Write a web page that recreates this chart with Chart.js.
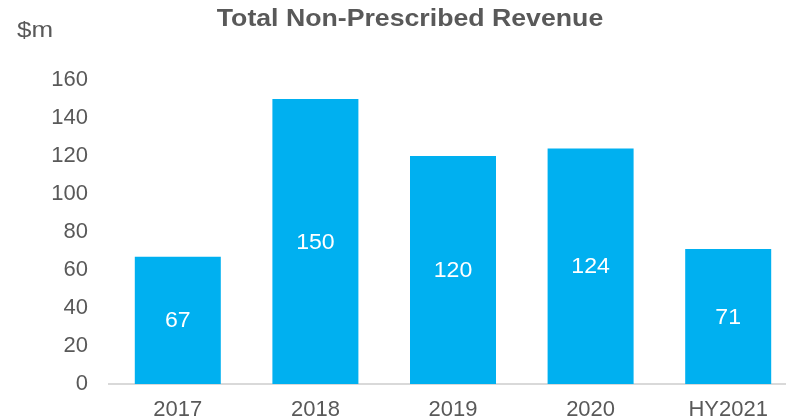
<!DOCTYPE html>
<html>
<head>
  <title>Total Non-Prescribed Revenue</title>
  <script src="https://cdn.jsdelivr.net/npm/chart.js"></script>
  <style>
    html, body {
      margin: 0;
      padding: 0;
      background: #fff;
      overflow: hidden;
    }
  </style>
</head>
<body>
  <canvas id="revChart" width="797" height="419"></canvas>

  <script>
    const years = ['2017', '2018', '2019', '2020', 'HY2021'];
    const revenue = [67, 150, 120, 124, 71];
    const yTicks = [0, 20, 40, 60, 80, 100, 120, 140, 160];

    const grey = '#595959';
    const font = "'Liberation Sans', Arial, sans-serif";

    // draw text a bit wider, the source image is stretched sideways
    function wideText(c, txt, x, y, sx) {
      c.save();
      c.translate(x, y);
      c.scale(sx, 1);
      c.fillText(txt, 0, 0);
      c.restore();
    }

    // title, unit label and the white numbers inside the bars
    const textPlugin = {
      id: 'texts',
      afterDatasetsDraw(chart) {
        const c = chart.ctx;
        c.save();
        c.fillStyle = grey;
        c.font = 'bold 23px ' + font;
        c.textAlign = 'center';
        c.textBaseline = 'alphabetic';
        wideText(c, 'Total Non-Prescribed Revenue', 410, 26, 1.16);

        c.font = '22px ' + font;
        c.textAlign = 'left';
        wideText(c, '$m', 17, 37, 1.18);

        c.fillStyle = '#fff';
        c.textAlign = 'center';
        c.textBaseline = 'middle';
        chart.getDatasetMeta(0).data.forEach((bar, i) => {
          wideText(c, revenue[i], bar.x, (bar.y + bar.base) / 2 + 1, 1.05);
        });
        c.restore();
      }
    };

    new Chart(document.getElementById('revChart').getContext('2d'), {
      type: 'bar',
      data: {
        labels: years,
        datasets: [{
          data: revenue,
          backgroundColor: '#00B0F0',
          categoryPercentage: 1,
          barPercentage: 0.625
        }]
      },
      options: {
        responsive: false,
        animation: false,
        layout: { padding: { top: 80, left: 0, right: 0, bottom: 0 } },
        plugins: {
          legend: { display: false },
          title: { display: false },
          tooltip: { enabled: false }
        },
        scales: {
          x: {
            grid: { display: false, drawTicks: false },
            border: { display: true, color: '#d9d9d9', width: 2 },
            ticks: { color: grey, font: { family: font, size: 22 }, padding: 13 },
            afterFit(scale) { scale.height = 35; }
          },
          y: {
            min: 0,
            max: 160,
            grid: { display: false, drawTicks: false },
            border: { display: false },
            afterBuildTicks(scale) { scale.ticks = yTicks.map(v => ({ value: v })); },
            ticks: { color: grey, font: { family: font, size: 22 }, padding: 21 },
            afterFit(scale) { scale.width = 109; }
          }
        }
      },
      plugins: [textPlugin]
    });
  </script>
</body>
</html>
